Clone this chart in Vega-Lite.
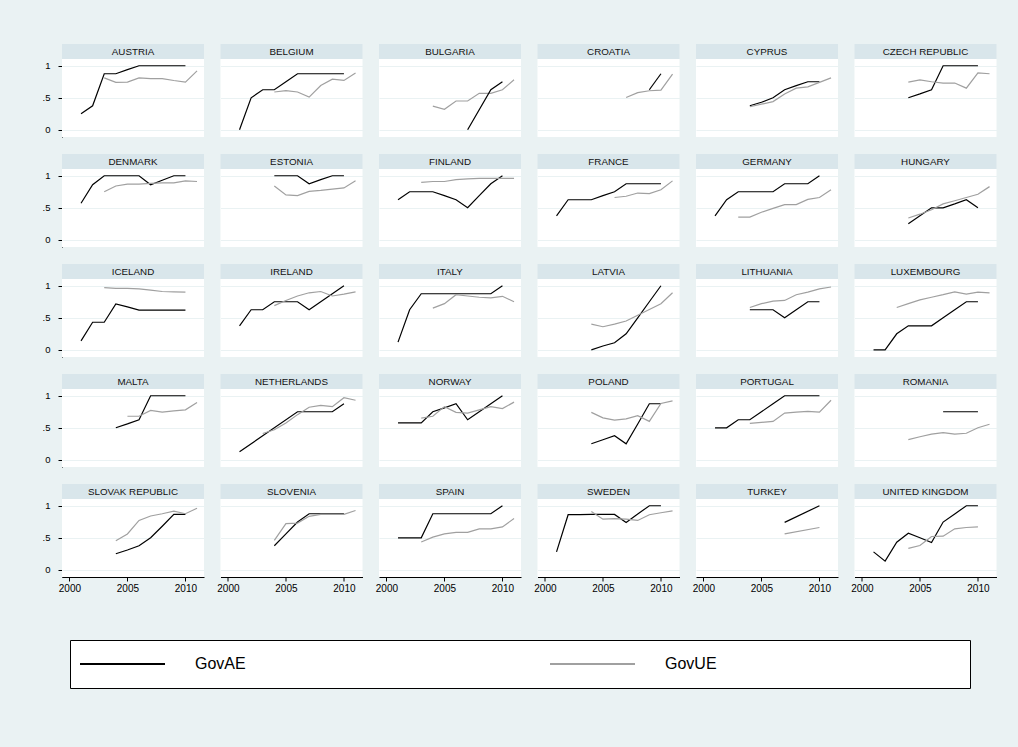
{
  "$schema": "https://vega.github.io/schema/vega-lite/v6.json",
  "background": "#eaf2f3",
  "padding": {"left": 42, "top": 44, "right": 23, "bottom": 58},
  "spacing": 46,
  "resolve": {"scale": {"x": "independent", "y": "independent"}},
  "config": {
    "font": "Liberation Sans",
    "view": {"fill": "white", "stroke": null},
    "axis": {"domainColor": "#000000", "tickColor": "#000000", "labelColor": "#000000", "labelFont": "Liberation Sans", "labelFontSize": 9.5, "tickSize": 4, "title": null}
  },
  "datasets": {
    "gov": [
      {"country": "AUSTRIA", "year": 2001, "GovAE": 0.25},
      {"country": "AUSTRIA", "year": 2002, "GovAE": 0.375},
      {"country": "AUSTRIA", "year": 2003, "GovAE": 0.875, "GovUE": 0.81},
      {"country": "AUSTRIA", "year": 2004, "GovAE": 0.875, "GovUE": 0.74},
      {"country": "AUSTRIA", "year": 2005, "GovAE": 0.94, "GovUE": 0.745},
      {"country": "AUSTRIA", "year": 2006, "GovAE": 1, "GovUE": 0.81},
      {"country": "AUSTRIA", "year": 2007, "GovAE": 1, "GovUE": 0.8},
      {"country": "AUSTRIA", "year": 2008, "GovAE": 1, "GovUE": 0.8},
      {"country": "AUSTRIA", "year": 2009, "GovAE": 1, "GovUE": 0.77},
      {"country": "AUSTRIA", "year": 2010, "GovAE": 1, "GovUE": 0.745},
      {"country": "AUSTRIA", "year": 2011, "GovUE": 0.92},
      {"country": "BELGIUM", "year": 2001, "GovAE": 0},
      {"country": "BELGIUM", "year": 2002, "GovAE": 0.5},
      {"country": "BELGIUM", "year": 2003, "GovAE": 0.625},
      {"country": "BELGIUM", "year": 2004, "GovAE": 0.625, "GovUE": 0.59},
      {"country": "BELGIUM", "year": 2005, "GovAE": 0.75, "GovUE": 0.61},
      {"country": "BELGIUM", "year": 2006, "GovAE": 0.875, "GovUE": 0.59},
      {"country": "BELGIUM", "year": 2007, "GovAE": 0.875, "GovUE": 0.51},
      {"country": "BELGIUM", "year": 2008, "GovAE": 0.875, "GovUE": 0.69},
      {"country": "BELGIUM", "year": 2009, "GovAE": 0.875, "GovUE": 0.79},
      {"country": "BELGIUM", "year": 2010, "GovAE": 0.875, "GovUE": 0.77},
      {"country": "BELGIUM", "year": 2011, "GovUE": 0.885},
      {"country": "BULGARIA", "year": 2004, "GovUE": 0.37},
      {"country": "BULGARIA", "year": 2005, "GovUE": 0.32},
      {"country": "BULGARIA", "year": 2006, "GovUE": 0.45},
      {"country": "BULGARIA", "year": 2007, "GovAE": 0, "GovUE": 0.45},
      {"country": "BULGARIA", "year": 2008, "GovUE": 0.57},
      {"country": "BULGARIA", "year": 2009, "GovAE": 0.625, "GovUE": 0.57},
      {"country": "BULGARIA", "year": 2010, "GovAE": 0.75, "GovUE": 0.625},
      {"country": "BULGARIA", "year": 2011, "GovUE": 0.78},
      {"country": "CROATIA", "year": 2007, "GovUE": 0.505},
      {"country": "CROATIA", "year": 2008, "GovUE": 0.58},
      {"country": "CROATIA", "year": 2009, "GovAE": 0.625, "GovUE": 0.61},
      {"country": "CROATIA", "year": 2010, "GovAE": 0.875, "GovUE": 0.62},
      {"country": "CROATIA", "year": 2011, "GovUE": 0.87},
      {"country": "CYPRUS", "year": 2004, "GovAE": 0.375, "GovUE": 0.36},
      {"country": "CYPRUS", "year": 2005, "GovAE": 0.43, "GovUE": 0.4},
      {"country": "CYPRUS", "year": 2006, "GovAE": 0.5, "GovUE": 0.44},
      {"country": "CYPRUS", "year": 2007, "GovAE": 0.625, "GovUE": 0.56},
      {"country": "CYPRUS", "year": 2008, "GovAE": 0.69, "GovUE": 0.65},
      {"country": "CYPRUS", "year": 2009, "GovAE": 0.75, "GovUE": 0.67},
      {"country": "CYPRUS", "year": 2010, "GovAE": 0.75, "GovUE": 0.74},
      {"country": "CYPRUS", "year": 2011, "GovUE": 0.81},
      {"country": "CZECH REPUBLIC", "year": 2004, "GovAE": 0.5, "GovUE": 0.745},
      {"country": "CZECH REPUBLIC", "year": 2005, "GovAE": 0.56, "GovUE": 0.78},
      {"country": "CZECH REPUBLIC", "year": 2006, "GovAE": 0.625, "GovUE": 0.75},
      {"country": "CZECH REPUBLIC", "year": 2007, "GovAE": 1, "GovUE": 0.73},
      {"country": "CZECH REPUBLIC", "year": 2008, "GovAE": 1, "GovUE": 0.73},
      {"country": "CZECH REPUBLIC", "year": 2009, "GovAE": 1, "GovUE": 0.65},
      {"country": "CZECH REPUBLIC", "year": 2010, "GovAE": 1, "GovUE": 0.89},
      {"country": "CZECH REPUBLIC", "year": 2011, "GovUE": 0.875},
      {"country": "DENMARK", "year": 2001, "GovAE": 0.57},
      {"country": "DENMARK", "year": 2002, "GovAE": 0.86},
      {"country": "DENMARK", "year": 2003, "GovAE": 1, "GovUE": 0.75},
      {"country": "DENMARK", "year": 2004, "GovAE": 1, "GovUE": 0.84},
      {"country": "DENMARK", "year": 2005, "GovAE": 1, "GovUE": 0.87},
      {"country": "DENMARK", "year": 2006, "GovAE": 1, "GovUE": 0.87},
      {"country": "DENMARK", "year": 2007, "GovAE": 0.86, "GovUE": 0.88},
      {"country": "DENMARK", "year": 2008, "GovAE": 0.93, "GovUE": 0.89},
      {"country": "DENMARK", "year": 2009, "GovAE": 1, "GovUE": 0.89},
      {"country": "DENMARK", "year": 2010, "GovAE": 1, "GovUE": 0.92},
      {"country": "DENMARK", "year": 2011, "GovUE": 0.91},
      {"country": "ESTONIA", "year": 2004, "GovAE": 1, "GovUE": 0.84},
      {"country": "ESTONIA", "year": 2005, "GovAE": 1, "GovUE": 0.7},
      {"country": "ESTONIA", "year": 2006, "GovAE": 1, "GovUE": 0.69},
      {"country": "ESTONIA", "year": 2007, "GovAE": 0.875, "GovUE": 0.755},
      {"country": "ESTONIA", "year": 2008, "GovAE": 0.94, "GovUE": 0.77},
      {"country": "ESTONIA", "year": 2009, "GovAE": 1, "GovUE": 0.79},
      {"country": "ESTONIA", "year": 2010, "GovAE": 1, "GovUE": 0.81},
      {"country": "ESTONIA", "year": 2011, "GovUE": 0.92},
      {"country": "FINLAND", "year": 2001, "GovAE": 0.625},
      {"country": "FINLAND", "year": 2002, "GovAE": 0.75},
      {"country": "FINLAND", "year": 2003, "GovAE": 0.75, "GovUE": 0.895},
      {"country": "FINLAND", "year": 2004, "GovAE": 0.75, "GovUE": 0.91},
      {"country": "FINLAND", "year": 2005, "GovAE": 0.69, "GovUE": 0.91},
      {"country": "FINLAND", "year": 2006, "GovAE": 0.625, "GovUE": 0.94},
      {"country": "FINLAND", "year": 2007, "GovAE": 0.5, "GovUE": 0.95},
      {"country": "FINLAND", "year": 2008, "GovAE": 0.69, "GovUE": 0.96},
      {"country": "FINLAND", "year": 2009, "GovAE": 0.875, "GovUE": 0.96},
      {"country": "FINLAND", "year": 2010, "GovAE": 1, "GovUE": 0.96},
      {"country": "FINLAND", "year": 2011, "GovUE": 0.96},
      {"country": "FRANCE", "year": 2001, "GovAE": 0.375},
      {"country": "FRANCE", "year": 2002, "GovAE": 0.625},
      {"country": "FRANCE", "year": 2003, "GovAE": 0.625},
      {"country": "FRANCE", "year": 2004, "GovAE": 0.625},
      {"country": "FRANCE", "year": 2005, "GovAE": 0.69},
      {"country": "FRANCE", "year": 2006, "GovAE": 0.75, "GovUE": 0.66},
      {"country": "FRANCE", "year": 2007, "GovAE": 0.875, "GovUE": 0.68},
      {"country": "FRANCE", "year": 2008, "GovAE": 0.875, "GovUE": 0.73},
      {"country": "FRANCE", "year": 2009, "GovAE": 0.875, "GovUE": 0.72},
      {"country": "FRANCE", "year": 2010, "GovAE": 0.875, "GovUE": 0.78},
      {"country": "FRANCE", "year": 2011, "GovUE": 0.92},
      {"country": "GERMANY", "year": 2001, "GovAE": 0.375},
      {"country": "GERMANY", "year": 2002, "GovAE": 0.625},
      {"country": "GERMANY", "year": 2003, "GovAE": 0.75, "GovUE": 0.355},
      {"country": "GERMANY", "year": 2004, "GovAE": 0.75, "GovUE": 0.355},
      {"country": "GERMANY", "year": 2005, "GovAE": 0.75, "GovUE": 0.43},
      {"country": "GERMANY", "year": 2006, "GovAE": 0.75, "GovUE": 0.49},
      {"country": "GERMANY", "year": 2007, "GovAE": 0.875, "GovUE": 0.55},
      {"country": "GERMANY", "year": 2008, "GovAE": 0.875, "GovUE": 0.55},
      {"country": "GERMANY", "year": 2009, "GovAE": 0.875, "GovUE": 0.63},
      {"country": "GERMANY", "year": 2010, "GovAE": 1, "GovUE": 0.66},
      {"country": "GERMANY", "year": 2011, "GovUE": 0.78},
      {"country": "HUNGARY", "year": 2004, "GovAE": 0.25, "GovUE": 0.34},
      {"country": "HUNGARY", "year": 2005, "GovAE": 0.375, "GovUE": 0.4},
      {"country": "HUNGARY", "year": 2006, "GovAE": 0.5, "GovUE": 0.47},
      {"country": "HUNGARY", "year": 2007, "GovAE": 0.5, "GovUE": 0.56},
      {"country": "HUNGARY", "year": 2008, "GovAE": 0.56, "GovUE": 0.61},
      {"country": "HUNGARY", "year": 2009, "GovAE": 0.625, "GovUE": 0.66},
      {"country": "HUNGARY", "year": 2010, "GovAE": 0.5, "GovUE": 0.71},
      {"country": "HUNGARY", "year": 2011, "GovUE": 0.83},
      {"country": "ICELAND", "year": 2001, "GovAE": 0.14},
      {"country": "ICELAND", "year": 2002, "GovAE": 0.43},
      {"country": "ICELAND", "year": 2003, "GovAE": 0.43, "GovUE": 0.97},
      {"country": "ICELAND", "year": 2004, "GovAE": 0.715, "GovUE": 0.96},
      {"country": "ICELAND", "year": 2005, "GovAE": 0.67, "GovUE": 0.96},
      {"country": "ICELAND", "year": 2006, "GovAE": 0.62, "GovUE": 0.95},
      {"country": "ICELAND", "year": 2007, "GovAE": 0.62, "GovUE": 0.93},
      {"country": "ICELAND", "year": 2008, "GovAE": 0.62, "GovUE": 0.91},
      {"country": "ICELAND", "year": 2009, "GovAE": 0.62, "GovUE": 0.905},
      {"country": "ICELAND", "year": 2010, "GovAE": 0.62, "GovUE": 0.9},
      {"country": "IRELAND", "year": 2001, "GovAE": 0.375},
      {"country": "IRELAND", "year": 2002, "GovAE": 0.625},
      {"country": "IRELAND", "year": 2003, "GovAE": 0.625},
      {"country": "IRELAND", "year": 2004, "GovAE": 0.75, "GovUE": 0.69},
      {"country": "IRELAND", "year": 2005, "GovAE": 0.75, "GovUE": 0.77},
      {"country": "IRELAND", "year": 2006, "GovAE": 0.75, "GovUE": 0.84},
      {"country": "IRELAND", "year": 2007, "GovAE": 0.625, "GovUE": 0.89},
      {"country": "IRELAND", "year": 2008, "GovAE": 0.75, "GovUE": 0.91},
      {"country": "IRELAND", "year": 2009, "GovAE": 0.875, "GovUE": 0.84},
      {"country": "IRELAND", "year": 2010, "GovAE": 1, "GovUE": 0.87},
      {"country": "IRELAND", "year": 2011, "GovUE": 0.905},
      {"country": "ITALY", "year": 2001, "GovAE": 0.12},
      {"country": "ITALY", "year": 2002, "GovAE": 0.625},
      {"country": "ITALY", "year": 2003, "GovAE": 0.875},
      {"country": "ITALY", "year": 2004, "GovAE": 0.875, "GovUE": 0.65},
      {"country": "ITALY", "year": 2005, "GovAE": 0.875, "GovUE": 0.72},
      {"country": "ITALY", "year": 2006, "GovAE": 0.875, "GovUE": 0.86},
      {"country": "ITALY", "year": 2007, "GovAE": 0.875, "GovUE": 0.84},
      {"country": "ITALY", "year": 2008, "GovAE": 0.875, "GovUE": 0.82},
      {"country": "ITALY", "year": 2009, "GovAE": 0.875, "GovUE": 0.81},
      {"country": "ITALY", "year": 2010, "GovAE": 1, "GovUE": 0.835},
      {"country": "ITALY", "year": 2011, "GovUE": 0.75},
      {"country": "LATVIA", "year": 2004, "GovAE": 0, "GovUE": 0.4},
      {"country": "LATVIA", "year": 2005, "GovAE": 0.06, "GovUE": 0.36},
      {"country": "LATVIA", "year": 2006, "GovAE": 0.11, "GovUE": 0.4},
      {"country": "LATVIA", "year": 2007, "GovAE": 0.25, "GovUE": 0.45},
      {"country": "LATVIA", "year": 2008, "GovAE": 0.5, "GovUE": 0.54},
      {"country": "LATVIA", "year": 2009, "GovAE": 0.75, "GovUE": 0.63},
      {"country": "LATVIA", "year": 2010, "GovAE": 1, "GovUE": 0.72},
      {"country": "LATVIA", "year": 2011, "GovUE": 0.89},
      {"country": "LITHUANIA", "year": 2004, "GovAE": 0.625, "GovUE": 0.66},
      {"country": "LITHUANIA", "year": 2005, "GovAE": 0.625, "GovUE": 0.72},
      {"country": "LITHUANIA", "year": 2006, "GovAE": 0.625, "GovUE": 0.76},
      {"country": "LITHUANIA", "year": 2007, "GovAE": 0.5, "GovUE": 0.77},
      {"country": "LITHUANIA", "year": 2008, "GovAE": 0.625, "GovUE": 0.86},
      {"country": "LITHUANIA", "year": 2009, "GovAE": 0.75, "GovUE": 0.9},
      {"country": "LITHUANIA", "year": 2010, "GovAE": 0.75, "GovUE": 0.95},
      {"country": "LITHUANIA", "year": 2011, "GovUE": 0.98},
      {"country": "LUXEMBOURG", "year": 2001, "GovAE": 0},
      {"country": "LUXEMBOURG", "year": 2002, "GovAE": 0},
      {"country": "LUXEMBOURG", "year": 2003, "GovAE": 0.25, "GovUE": 0.66},
      {"country": "LUXEMBOURG", "year": 2004, "GovAE": 0.375, "GovUE": 0.72},
      {"country": "LUXEMBOURG", "year": 2005, "GovAE": 0.375, "GovUE": 0.78},
      {"country": "LUXEMBOURG", "year": 2006, "GovAE": 0.375, "GovUE": 0.82},
      {"country": "LUXEMBOURG", "year": 2007, "GovAE": 0.5, "GovUE": 0.86},
      {"country": "LUXEMBOURG", "year": 2008, "GovAE": 0.625, "GovUE": 0.905},
      {"country": "LUXEMBOURG", "year": 2009, "GovAE": 0.75, "GovUE": 0.87},
      {"country": "LUXEMBOURG", "year": 2010, "GovAE": 0.75, "GovUE": 0.9},
      {"country": "LUXEMBOURG", "year": 2011, "GovUE": 0.89},
      {"country": "MALTA", "year": 2004, "GovAE": 0.5},
      {"country": "MALTA", "year": 2005, "GovAE": 0.56, "GovUE": 0.68},
      {"country": "MALTA", "year": 2006, "GovAE": 0.625, "GovUE": 0.68},
      {"country": "MALTA", "year": 2007, "GovAE": 1, "GovUE": 0.77},
      {"country": "MALTA", "year": 2008, "GovAE": 1, "GovUE": 0.745},
      {"country": "MALTA", "year": 2009, "GovAE": 1, "GovUE": 0.765},
      {"country": "MALTA", "year": 2010, "GovAE": 1, "GovUE": 0.78},
      {"country": "MALTA", "year": 2011, "GovUE": 0.895},
      {"country": "NETHERLANDS", "year": 2001, "GovAE": 0.125},
      {"country": "NETHERLANDS", "year": 2003, "GovUE": 0.41},
      {"country": "NETHERLANDS", "year": 2004, "GovUE": 0.47},
      {"country": "NETHERLANDS", "year": 2005, "GovUE": 0.575},
      {"country": "NETHERLANDS", "year": 2006, "GovAE": 0.75, "GovUE": 0.705},
      {"country": "NETHERLANDS", "year": 2007, "GovAE": 0.75, "GovUE": 0.82},
      {"country": "NETHERLANDS", "year": 2008, "GovAE": 0.75, "GovUE": 0.85},
      {"country": "NETHERLANDS", "year": 2009, "GovAE": 0.75, "GovUE": 0.83},
      {"country": "NETHERLANDS", "year": 2010, "GovAE": 0.875, "GovUE": 0.97},
      {"country": "NETHERLANDS", "year": 2011, "GovUE": 0.93},
      {"country": "NORWAY", "year": 2001, "GovAE": 0.575},
      {"country": "NORWAY", "year": 2002, "GovAE": 0.575},
      {"country": "NORWAY", "year": 2003, "GovAE": 0.575, "GovUE": 0.65},
      {"country": "NORWAY", "year": 2004, "GovAE": 0.75, "GovUE": 0.68},
      {"country": "NORWAY", "year": 2005, "GovAE": 0.81, "GovUE": 0.83},
      {"country": "NORWAY", "year": 2006, "GovAE": 0.875, "GovUE": 0.74},
      {"country": "NORWAY", "year": 2007, "GovAE": 0.625, "GovUE": 0.73},
      {"country": "NORWAY", "year": 2008, "GovAE": 0.75, "GovUE": 0.78},
      {"country": "NORWAY", "year": 2009, "GovAE": 0.875, "GovUE": 0.83},
      {"country": "NORWAY", "year": 2010, "GovAE": 1, "GovUE": 0.8},
      {"country": "NORWAY", "year": 2011, "GovUE": 0.9},
      {"country": "POLAND", "year": 2004, "GovAE": 0.25, "GovUE": 0.74},
      {"country": "POLAND", "year": 2005, "GovAE": 0.3125, "GovUE": 0.655},
      {"country": "POLAND", "year": 2006, "GovAE": 0.375, "GovUE": 0.62},
      {"country": "POLAND", "year": 2007, "GovAE": 0.25, "GovUE": 0.64},
      {"country": "POLAND", "year": 2008, "GovAE": 0.56, "GovUE": 0.69},
      {"country": "POLAND", "year": 2009, "GovAE": 0.875, "GovUE": 0.6},
      {"country": "POLAND", "year": 2010, "GovAE": 0.875, "GovUE": 0.88},
      {"country": "POLAND", "year": 2011, "GovUE": 0.92},
      {"country": "PORTUGAL", "year": 2001, "GovAE": 0.5},
      {"country": "PORTUGAL", "year": 2002, "GovAE": 0.5},
      {"country": "PORTUGAL", "year": 2003, "GovAE": 0.625},
      {"country": "PORTUGAL", "year": 2004, "GovAE": 0.625, "GovUE": 0.57},
      {"country": "PORTUGAL", "year": 2005, "GovAE": 0.75, "GovUE": 0.585},
      {"country": "PORTUGAL", "year": 2006, "GovAE": 0.875, "GovUE": 0.6},
      {"country": "PORTUGAL", "year": 2007, "GovAE": 1, "GovUE": 0.73},
      {"country": "PORTUGAL", "year": 2008, "GovAE": 1, "GovUE": 0.745},
      {"country": "PORTUGAL", "year": 2009, "GovAE": 1, "GovUE": 0.755},
      {"country": "PORTUGAL", "year": 2010, "GovAE": 1, "GovUE": 0.745},
      {"country": "PORTUGAL", "year": 2011, "GovUE": 0.93},
      {"country": "ROMANIA", "year": 2004, "GovUE": 0.315},
      {"country": "ROMANIA", "year": 2005, "GovUE": 0.36},
      {"country": "ROMANIA", "year": 2006, "GovUE": 0.4},
      {"country": "ROMANIA", "year": 2007, "GovAE": 0.75, "GovUE": 0.425},
      {"country": "ROMANIA", "year": 2008, "GovAE": 0.75, "GovUE": 0.4},
      {"country": "ROMANIA", "year": 2009, "GovAE": 0.75, "GovUE": 0.415},
      {"country": "ROMANIA", "year": 2010, "GovAE": 0.75, "GovUE": 0.5},
      {"country": "ROMANIA", "year": 2011, "GovUE": 0.555},
      {"country": "SLOVAK REPUBLIC", "year": 2004, "GovAE": 0.25, "GovUE": 0.455},
      {"country": "SLOVAK REPUBLIC", "year": 2005, "GovAE": 0.31, "GovUE": 0.56},
      {"country": "SLOVAK REPUBLIC", "year": 2006, "GovAE": 0.375, "GovUE": 0.77},
      {"country": "SLOVAK REPUBLIC", "year": 2007, "GovAE": 0.5, "GovUE": 0.84},
      {"country": "SLOVAK REPUBLIC", "year": 2008, "GovAE": 0.68, "GovUE": 0.875},
      {"country": "SLOVAK REPUBLIC", "year": 2009, "GovAE": 0.865, "GovUE": 0.915},
      {"country": "SLOVAK REPUBLIC", "year": 2010, "GovAE": 0.865, "GovUE": 0.875},
      {"country": "SLOVAK REPUBLIC", "year": 2011, "GovUE": 0.96},
      {"country": "SLOVENIA", "year": 2004, "GovAE": 0.375, "GovUE": 0.46},
      {"country": "SLOVENIA", "year": 2005, "GovAE": 0.56, "GovUE": 0.72},
      {"country": "SLOVENIA", "year": 2006, "GovAE": 0.745, "GovUE": 0.73},
      {"country": "SLOVENIA", "year": 2007, "GovAE": 0.875, "GovUE": 0.835},
      {"country": "SLOVENIA", "year": 2008, "GovAE": 0.875, "GovUE": 0.865},
      {"country": "SLOVENIA", "year": 2009, "GovAE": 0.875, "GovUE": 0.865},
      {"country": "SLOVENIA", "year": 2010, "GovAE": 0.875, "GovUE": 0.865},
      {"country": "SLOVENIA", "year": 2011, "GovUE": 0.925},
      {"country": "SPAIN", "year": 2001, "GovAE": 0.5},
      {"country": "SPAIN", "year": 2002, "GovAE": 0.5},
      {"country": "SPAIN", "year": 2003, "GovAE": 0.5, "GovUE": 0.435},
      {"country": "SPAIN", "year": 2004, "GovAE": 0.875, "GovUE": 0.51},
      {"country": "SPAIN", "year": 2005, "GovAE": 0.875, "GovUE": 0.56},
      {"country": "SPAIN", "year": 2006, "GovAE": 0.875, "GovUE": 0.585},
      {"country": "SPAIN", "year": 2007, "GovAE": 0.875, "GovUE": 0.585},
      {"country": "SPAIN", "year": 2008, "GovAE": 0.875, "GovUE": 0.64},
      {"country": "SPAIN", "year": 2009, "GovAE": 0.875, "GovUE": 0.64},
      {"country": "SPAIN", "year": 2010, "GovAE": 1, "GovUE": 0.67},
      {"country": "SPAIN", "year": 2011, "GovUE": 0.8},
      {"country": "SWEDEN", "year": 2001, "GovAE": 0.28},
      {"country": "SWEDEN", "year": 2002, "GovAE": 0.86},
      {"country": "SWEDEN", "year": 2003, "GovAE": 0.86},
      {"country": "SWEDEN", "year": 2004, "GovAE": 0.865, "GovUE": 0.91},
      {"country": "SWEDEN", "year": 2005, "GovAE": 0.865, "GovUE": 0.79},
      {"country": "SWEDEN", "year": 2006, "GovAE": 0.865, "GovUE": 0.8},
      {"country": "SWEDEN", "year": 2007, "GovAE": 0.74, "GovUE": 0.79},
      {"country": "SWEDEN", "year": 2008, "GovAE": 0.87, "GovUE": 0.77},
      {"country": "SWEDEN", "year": 2009, "GovAE": 1, "GovUE": 0.86},
      {"country": "SWEDEN", "year": 2010, "GovAE": 1, "GovUE": 0.89},
      {"country": "SWEDEN", "year": 2011, "GovUE": 0.92},
      {"country": "TURKEY", "year": 2007, "GovAE": 0.74, "GovUE": 0.56},
      {"country": "TURKEY", "year": 2010, "GovAE": 1, "GovUE": 0.66},
      {"country": "UNITED KINGDOM", "year": 2001, "GovAE": 0.28},
      {"country": "UNITED KINGDOM", "year": 2002, "GovAE": 0.135},
      {"country": "UNITED KINGDOM", "year": 2003, "GovAE": 0.43},
      {"country": "UNITED KINGDOM", "year": 2004, "GovAE": 0.57, "GovUE": 0.335},
      {"country": "UNITED KINGDOM", "year": 2005, "GovAE": 0.5, "GovUE": 0.38},
      {"country": "UNITED KINGDOM", "year": 2006, "GovAE": 0.425, "GovUE": 0.52},
      {"country": "UNITED KINGDOM", "year": 2007, "GovAE": 0.745, "GovUE": 0.525},
      {"country": "UNITED KINGDOM", "year": 2008, "GovAE": 0.87, "GovUE": 0.64},
      {"country": "UNITED KINGDOM", "year": 2009, "GovAE": 1, "GovUE": 0.66},
      {"country": "UNITED KINGDOM", "year": 2010, "GovAE": 1, "GovUE": 0.67}
    ],
    "keys": [{"series": "GovAE"}, {"series": "GovUE"}]
  },
  "vconcat": [
    {
      "data": {"name": "gov"},
      "transform": [
        {"fold": ["GovAE", "GovUE"], "as": ["series", "value"]},
        {"filter": "isValid(datum.value)"},
        {"window": [{"op": "dense_rank", "as": "idx"}], "sort": [{"field": "country", "order": "ascending"}]},
        {"calculate": "floor((datum.idx - 1) / 6)", "as": "r"},
        {"calculate": "(datum.idx - 1) % 6", "as": "c"}
      ],
      "facet": {
        "row": {"field": "r", "type": "ordinal", "header": null},
        "column": {"field": "c", "type": "ordinal", "header": null}
      },
      "spacing": {"row": 17, "column": 16.5},
      "spec": {
        "width": 142,
        "height": 78,
        "layer": [
          {
            "transform": [{"aggregate": [{"op": "count", "as": "n"}], "groupby": ["country", "r", "c"]}],
            "mark": {"type": "rect", "fill": "#d9e6eb", "stroke": null},
            "encoding": {
              "x": {"datum": 1999.36, "type": "quantitative"},
              "x2": {"datum": 2011.6},
              "y": {"datum": 1.105, "type": "quantitative"},
              "y2": {"datum": 1.339}
            }
          },
          {
            "transform": [{"aggregate": [{"op": "count", "as": "n"}], "groupby": ["country", "r", "c"]}],
            "mark": {"type": "text", "fontSize": 9.8, "font": "Liberation Sans", "color": "#111111", "baseline": "middle", "align": "center"},
            "encoding": {
              "x": {"datum": 2005.48, "type": "quantitative"},
              "y": {"datum": 1.222, "type": "quantitative"},
              "text": {"field": "country"}
            }
          },
          {
            "mark": {"type": "line", "strokeWidth": 1.2},
            "encoding": {
              "x": {"field": "year", "type": "quantitative", "scale": {"domain": [1999.36, 2011.6], "nice": false, "zero": false},
                "axis": {"values": [2000, 2005, 2010], "tickCount": 5, "format": "d", "grid": false, "labelPadding": 2, "labelFontSize": 10}},
              "y": {"field": "value", "type": "quantitative", "scale": {"domain": [-0.112, 1.105], "nice": false, "zero": false},
                "axis": {"values": [0, 0.5, 1], "tickCount": 5, "labelExpr": "datum.value == 0.5 ? '.5' : toString(datum.value)", "grid": true, "gridColor": "#eaf2f3", "gridWidth": 1.2, "labelPadding": 8}},
              "color": {"field": "series", "type": "nominal", "scale": {"domain": ["GovAE", "GovUE"], "range": ["#000000", "#a0a0a0"]}, "legend": null},
              "order": {"field": "year"}
            }
          }
        ]
      }
    },
    {
      "spacing": 3,
      "hconcat": [
        {
          "data": {"name": "keys"},
          "width": 1,
          "height": 48,
          "view": {"fill": null, "stroke": null},
          "mark": {"type": "point", "opacity": 0},
          "encoding": {}
        },
        {
          "data": {"name": "keys"},
          "width": 900,
          "height": 48,
          "view": {"fill": "white", "stroke": "#000000", "strokeWidth": 1},
          "layer": [
            {
              "mark": {"type": "rule", "strokeWidth": 2, "x2Offset": 85},
              "encoding": {
                "x": {"field": "series", "type": "nominal", "scale": {"type": "point", "domain": ["GovAE", "GovUE"], "range": [10, 480], "padding": 0}, "axis": null},
                "x2": {"field": "series"},
                "y": {"datum": 0, "type": "quantitative", "scale": {"domain": [-1, 1]}, "axis": null},
                "color": {"field": "series", "type": "nominal", "legend": null}
              }
            },
            {
              "mark": {"type": "text", "fontSize": 16, "font": "Liberation Sans", "align": "left", "baseline": "middle", "xOffset": 115, "color": "#000000"},
              "encoding": {
                "x": {"field": "series", "type": "nominal", "axis": null},
                "y": {"datum": 0, "type": "quantitative", "axis": null},
                "text": {"field": "series"}
              }
            }
          ]
        }
      ]
    }
  ]
}
